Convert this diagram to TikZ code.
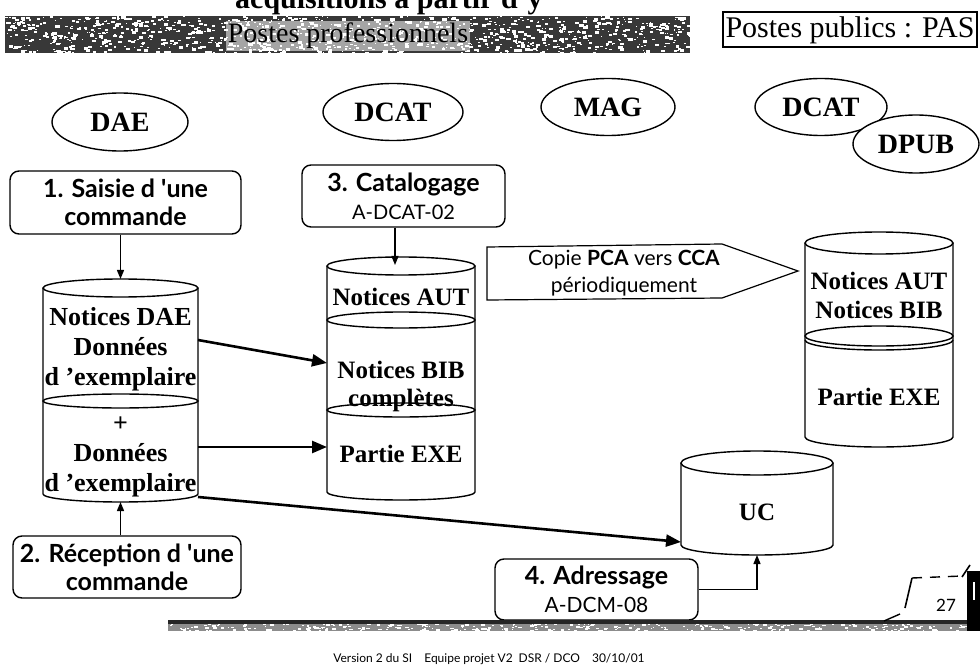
\documentclass[tikz,border=0pt]{standalone}
\usepackage{fontspec}
\setmainfont{Liberation Serif}
\newfontfamily\humsans{Lato}
\usetikzlibrary{arrows.meta,shapes.geometric,calc}

\tikzset{
  outline/.style={line width=1.4pt},
  actor/.style={ellipse, draw, outline, fill=white, minimum width=134pt, minimum height=57pt,
    inner sep=0pt, font=\fontsize{28}{30}\selectfont\bfseries},
  task/.style={draw, outline, rounded corners=9pt, fill=white, align=center, inner sep=0pt,
    font=\humsans\fontsize{25}{28}\selectfont\bfseries},
  body/.style={inner sep=0pt, outer sep=0pt},
  storetext/.style={align=center, inner sep=0pt, font=\fontsize{25}{29}\selectfont\bfseries},
  feed/.style={line width=1.3pt, -{Triangle[length=9pt,width=7pt]}},
  flow/.style={line width=2.6pt, -{Triangle[length=15pt,width=12pt]}},
}

% cylinder outline: centre x, half width, top y, bottom y, top radius, bottom radius
\newcommand{\drawcyl}[6]{%
  \fill[white] (#1-#2,#3) -- (#1-#2,#4) arc[start angle=180,end angle=360,x radius=#2pt,y radius=#6pt] -- (#1+#2,#3) -- cycle;
  \draw[outline] (#1-#2,#3) -- (#1-#2,#4) arc[start angle=180,end angle=360,x radius=#2pt,y radius=#6pt] -- (#1+#2,#3);
  \draw[outline,fill=white] (#1,#3) ellipse [x radius=#2pt,y radius=#5pt];
}
% section line inside a cylinder: centre x, half width, y, radius
\newcommand{\divider}[4]{\draw[outline] (#1,#3) ellipse [x radius=#2pt,y radius=#4pt];}

\begin{document}
\begin{tikzpicture}[x=1pt,y=-1pt]
\useasboundingbox (0,0) rectangle (980,668);
\fill[white] (0,0) rectangle (980,668);

% heading, cut by the top edge
\begin{scope}
  \clip (0,0) rectangle (980,668);
  \node[anchor=base west, inner sep=0pt, font=\fontsize{30}{32}\selectfont\bfseries] (title) at (235,9) {acquisitions à partir d'y};
\end{scope}

% speckled banner
\begin{scope}
  \clip (5,16) rectangle (690,53);
  \fill[black!78] (5,16) rectangle (690,53);
  \pgfmathsetseed{2718}
  \foreach \i in {1,...,1100}{
    \pgfmathsetmacro{\px}{5+685*rnd}
    \pgfmathsetmacro{\py}{16+37*rnd}
    \pgfmathsetmacro{\sz}{1+3.5*rnd}
    \fill[white] (\px,\py) rectangle ++(\sz,0.6*\sz);
  }
\end{scope}
\node[font=\fontsize{28}{30}\selectfont, fill=white, fill opacity=0.55, text opacity=1, inner sep=2pt] (pro) at (348,36) {Postes professionnels};
\node[draw, line width=2pt, minimum width=254pt, minimum height=35pt, font=\fontsize{30}{32}\selectfont, inner sep=0pt] (pub) at (850,30) {Postes publics : PAS};

% actors
\node[actor, minimum width=136pt, minimum height=58pt] (dae) at (120,122) {DAE};
\node[actor, minimum width=140pt] (dcat) at (393,112) {DCAT};
\node[actor] (mag) at (608,107) {MAG};
\node[actor, minimum width=132pt] (dcatp) at (821,107) {DCAT};
\node[actor, minimum width=126pt, minimum height=58pt] (dpub) at (916,144) {DPUB};

% tasks
\node[task, minimum width=231pt, minimum height=63pt] (saisie) at (125.5,202.5) {1. Saisie d 'une\\commande};
\node[task, minimum width=203pt, minimum height=62pt] (catal) at (403.5,196) {3. Catalogage\\{\mdseries\fontsize{20}{24}\selectfont A-DCAT-02}};
\node[task, minimum width=228pt, minimum height=62pt] (recep) at (127,567) {2. Réception d 'une\\commande};
\node[task, minimum width=203pt, minimum height=61pt] (adr) at (596.5,589.5) {4. Adressage\\{\mdseries\fontsize{21}{24}\selectfont A-DCM-08}};

% data stores
\drawcyl{120.5}{77.5}{288}{494}{9}{8}
\divider{120.5}{77.5}{401}{7}
\drawcyl{401}{74}{266}{492}{9}{8}
\divider{401}{74}{320}{8}
\divider{401}{74}{410}{7}
\drawcyl{879}{74}{243}{437}{11}{10}
\divider{879}{74}{336}{10}
\draw[outline] (805,340) arc[start angle=180,end angle=360,x radius=74pt,y radius=10pt];
\drawcyl{757}{76}{463}{545}{12}{10}

\node[body, minimum width=155pt, minimum height=223pt] (cL) at (120.5,390.5) {};
\node[body, minimum width=148pt, minimum height=243pt] (cM) at (401,378.5) {};
\node[body, minimum width=148pt, minimum height=215pt] (cR) at (879,339.5) {};
\node[body, minimum width=152pt, minimum height=104pt] (cUC) at (757,503) {};

\node[storetext, font=\fontsize{26}{30}\selectfont\bfseries] (daeA) at (120.5,349) {Notices DAE\\Données\\d 'exemplaire};
\node[storetext, font=\fontsize{26}{30}\selectfont\bfseries] (daeB) at (120.5,457) {+\\Données\\d 'exemplaire};
\node[storetext] (autM) at (401,297) {Notices AUT};
\node[storetext, font=\fontsize{25}{28}\selectfont\bfseries] (bibM) at (401,386.5) {Notices BIB\\complètes};
\node[storetext] (exeM) at (401,454) {Partie EXE};
\node[storetext] (bibR) at (879,295.5) {Notices AUT\\Notices BIB};
\node[storetext] (exeR) at (879,397) {Partie EXE};
\node[storetext] (ucT) at (757,512) {UC};

% periodic copy
\draw[line width=1.2pt] (487,247) -- (722,244) -- (798,271) -- (722,298) -- (487,300) -- cycle;
\node[align=center, font=\humsans\fontsize{21}{27}\selectfont] (copie) at (624,273) {Copie \textbf{PCA} vers \textbf{CCA}\\périodiquement};

% connectors
\coordinate (cMin) at (395,265);
\draw[feed] (cL.north |- saisie.south) -- (cL.north);
\draw[feed] (cMin |- catal.south) -- (cMin);
\draw[feed] (cL.south |- recep.north) -- (cL.south);
\draw[feed] (adr.east) -| (cUC.south);
\draw[flow] ([yshift=50.5pt]cL.east) -- ([yshift=15.5pt]cM.west);
\draw[flow] ([yshift=-56.5pt]cL.east) -- ([yshift=-68.5pt]cM.west);
\draw[flow] ([yshift=5pt]cL.south east) -- ([yshift=13pt]cUC.south west);

% footer band
\begin{scope}
  \clip (168,620) rectangle (975,631);
  \fill[black!45] (168,620) rectangle (975,631);
  \pgfmathsetseed{31}
  \foreach \i in {1,...,500}{
    \pgfmathsetmacro{\px}{168+807*rnd}
    \pgfmathsetmacro{\py}{620+11*rnd}
    \pgfmathsetmacro{\sz}{1+3*rnd}
    \fill[white] (\px,\py) rectangle ++(\sz,0.5*\sz);
  }
  \fill[black!85] (168,620) rectangle (975,624);
\end{scope}

% page corner with number
\fill[black] (967,571) rectangle (980,631);
\draw[white, line width=1.2pt] (974,582) -- (974,600);
\draw[line width=1.6pt] (912,578) -- (905,608);
\draw[line width=1.4pt, dash pattern=on 10pt off 8pt] (912,578) -- (962,576);
\draw[line width=1.6pt] (962,577) -- (970,565);
\draw[line width=1.4pt] (900,614) -- (884,621);
\node[font=\humsans\fontsize{17}{20}\selectfont] (page) at (946,605) {27};

\node[font=\humsans\fontsize{12}{14}\selectfont] (foot) at (489,659) {Version 2 du SI\quad Equipe projet V2\enspace DSR / DCO\quad 30/10/01};
\end{tikzpicture}
\end{document}
